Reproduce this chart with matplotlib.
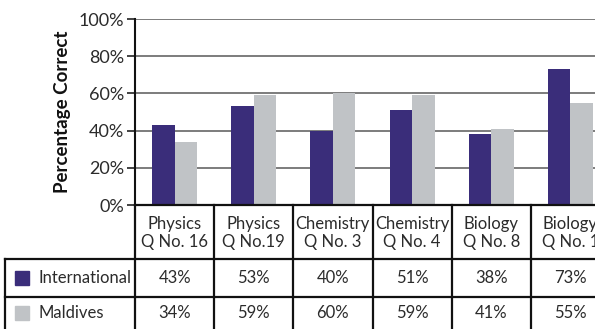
import matplotlib.pyplot as plt
import numpy as np

plt.rcParams['font.family'] = ['Lato', 'DejaVu Sans']

questions = ["Physics\nQ No. 16", "Physics\nQ No.19", "Chemistry\nQ No. 3",
             "Chemistry\nQ No. 4", "Biology\nQ No. 8", "Biology\nQ No. 1"]
series_names = ["International", "Maldives"]
international = [43, 53, 40, 51, 38, 73]
maldives = [34, 59, 60, 59, 41, 55]
yticks = [0, 20, 40, 60, 80, 100]

purple = "#3a2d7a"
grey = "#c0c3c6"
text_col = "#2b2b2b"

W, H = 595, 329
fig = plt.figure(figsize=(W / 100, H / 100), dpi=100)

# pixel layout
ax_l, ax_r = 135, 610   # last column runs past the right edge
ax_t, ax_b = 19, 205
col_w = (ax_r - ax_l) / len(questions)
lab_l = 5
row_lines = [205, 259, 297, 335]

ax = fig.add_axes([ax_l / W, 1 - ax_b / H, (ax_r - ax_l) / W, (ax_b - ax_t) / H])
x = np.arange(len(questions))
bw = 0.285
ax.bar(x - bw / 2, international, bw, color=purple)
ax.bar(x + bw / 2, maldives, bw, color=grey)
ax.set_xlim(-0.5, len(questions) - 0.5)
ax.set_ylim(0, 100)
ax.set_yticks(yticks)
ax.set_yticklabels([f"{v}%" for v in yticks], fontsize=13, color=text_col)
ax.yaxis.grid(True, color="#666666", linewidth=1.2)
ax.set_axisbelow(True)
ax.tick_params(axis='y', length=6, width=1.2, color="#222222", pad=2)
ax.tick_params(axis='x', bottom=False, labelbottom=False)
for s in ["top", "right", "bottom"]:
    ax.spines[s].set_visible(False)
ax.spines["left"].set_linewidth(1.5)
ax.spines["left"].set_color("#111111")
ax.set_ylabel("Percentage Correct", fontsize=13.5, fontweight="bold",
              color="#111111", labelpad=5)

# table underneath, in pixel coordinates
tb = fig.add_axes([0, 1 - row_lines[-1] / H, 1, (row_lines[-1] - row_lines[0]) / H])
tb.set_xlim(0, W)
tb.set_ylim(row_lines[-1], row_lines[0])
tb.axis("off")
lc = "#111111"
tb.plot([ax_l, ax_r], [row_lines[0], row_lines[0]], color=lc, lw=1.6, clip_on=False)
for yl in row_lines[1:3]:
    tb.plot([lab_l, ax_r], [yl, yl], color=lc, lw=1.6, clip_on=False)
tb.plot([lab_l, lab_l], [row_lines[1], row_lines[-1]], color=lc, lw=1.6, clip_on=False)
for i in range(len(questions) + 1):
    xc = ax_l + i * col_w
    tb.plot([xc, xc], [row_lines[0], row_lines[-1]], color=lc, lw=1.6, clip_on=False)

fs = 12
for i, q in enumerate(questions):
    xc = ax_l + (i + 0.5) * col_w
    tb.text(xc, (row_lines[0] + row_lines[1]) / 2 + 1, q, ha="center", va="center",
            fontsize=fs, color=text_col, linespacing=1.15)
    tb.text(xc, (row_lines[1] + row_lines[2]) / 2, f"{international[i]}%",
            ha="center", va="center", fontsize=fs, color=text_col)
    tb.text(xc, (row_lines[2] + row_lines[3]) / 2 - 3, f"{maldives[i]}%",
            ha="center", va="center", fontsize=fs, color=text_col)

for name, col, r0, r1, dy in [(series_names[0], purple, row_lines[1], row_lines[2], 0),
                              (series_names[1], grey, row_lines[2], row_lines[3], -3)]:
    yc = (r0 + r1) / 2 + dy
    tb.add_patch(plt.Rectangle((15, yc - 7), 14, 14, color=col))
    tb.text(38, yc, name, ha="left", va="center", fontsize=fs, color=text_col)

fig.savefig("out.png", dpi=100)
